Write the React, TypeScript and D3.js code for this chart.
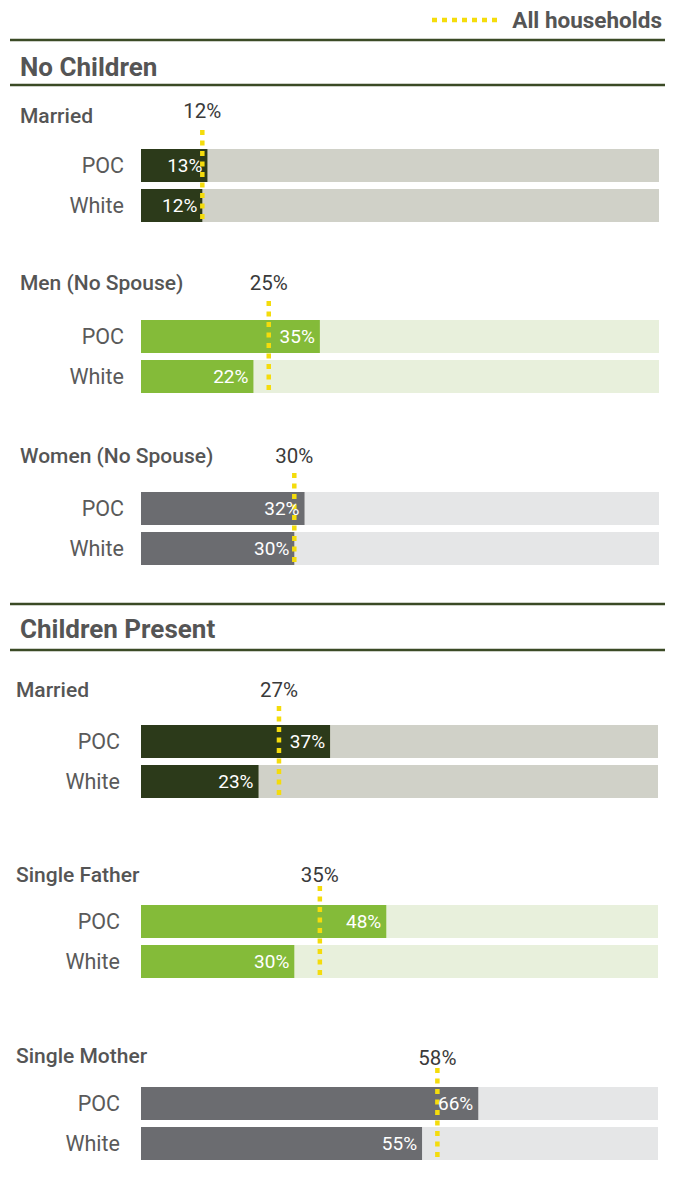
import React from "react";
import * as d3 from "d3";

const sections = ["No Children", "Children Present"];
const groupSection = [0, 0, 0, 1, 1, 1];
const groups = ["Married", "Men (No Spouse)", "Women (No Spouse)", "Married", "Single Father", "Single Mother"];
const rowLabels = ["POC", "White"];
const pocValues = [13, 35, 32, 37, 48, 66];
const whiteValues = [12, 22, 30, 23, 30, 55];
const allValues = [12, 25, 30, 27, 35, 58];
const groupPalette = ["dark", "green", "gray", "dark", "green", "gray"];
const legendLabel = "All households";

const W = 675;
const H = 1191;
const FONT = "Roboto, 'Liberation Sans', sans-serif";
const fills: Record<string, { bar: string; track: string }> = {
  dark: { bar: "#2c3a1a", track: "#d0d1c8" },
  green: { bar: "#84bb39", track: "#e8f0dc" },
  gray: { bar: "#6b6c70", track: "#e5e6e7" },
};
const YELLOW = "#f4dc0c";
const RULE = "#3b4a25";

// layout
const sectionLayout = [
  { titleY: 76, ruleTop: 40, ruleBottom: 85, labelX: 20, rowX: 124, trackEnd: 659 },
  { titleY: 638, ruleTop: 604, ruleBottom: 650, labelX: 16, rowX: 120, trackEnd: 658 },
];
const titleBase = [123, 290, 463, 697, 882, 1063];
const markBase = [118, 290, 463, 697, 882, 1065];
const barTops = [149, 320, 492, 725, 905, 1087];
const barH = 33;
const barGap = 40;

const x = d3.scaleLinear().domain([0, 100]).range([141, 652]);

export default function App() {
  return (
    <svg width={W} height={H} style={{ display: "block", position: "absolute", left: 0, top: 0 }} fontFamily={FONT}>
      <rect width={W} height={H} fill="#fff" />
      {/* legend */}
      <line x1={432} x2={502} y1={20} y2={20} stroke={YELLOW} strokeWidth={4.5} strokeDasharray="5 5" />
      <text x={662} y={28} textAnchor="end" fontSize={22.5} fontWeight={700} fill="#555">{legendLabel}</text>
      {sections.map((s, i) => {
        const L = sectionLayout[i];
        return (
          <g key={s}>
            <line x1={10} x2={665} y1={L.ruleTop} y2={L.ruleTop} stroke={RULE} strokeWidth={2.5} />
            <line x1={10} x2={665} y1={L.ruleBottom} y2={L.ruleBottom} stroke={RULE} strokeWidth={2.5} />
            <text x={20} y={L.titleY} fontSize={26} fontWeight={700} fill="#555">{s}</text>
          </g>
        );
      })}
      {groups.map((g, i) => {
        const L = sectionLayout[groupSection[i]];
        const pal = fills[groupPalette[i]];
        const vals = [pocValues[i], whiteValues[i]];
        const ax = x(allValues[i]);
        const barTop = barTops[i];
        return (
          <g key={i}>
            <text x={L.labelX} y={titleBase[i]} fontSize={21} fontWeight={500} fill="#555">{g}</text>
            {vals.map((v, j) => {
              const y0 = barTop + j * barGap;
              return (
                <g key={j}>
                  <text x={L.rowX} y={y0 + barH / 2 + 7.5} textAnchor="end" fontSize={21.5} fill="#5a5a5a">{rowLabels[j]}</text>
                  <rect x={x(0)} y={y0} width={L.trackEnd - x(0)} height={barH} fill={pal.track} />
                  <rect x={x(0)} y={y0} width={x(v) - x(0)} height={barH} fill={pal.bar} />
                </g>
              );
            })}
            <line x1={ax} x2={ax} y1={barTop - 19} y2={barTop + barGap + barH} stroke={YELLOW} strokeWidth={4.5} strokeDasharray="5 5.5" />
            {vals.map((v, j) => {
              const y0 = barTop + j * barGap;
              return (
                <text key={j} x={x(v) - 5} y={y0 + barH / 2 + 6.5} textAnchor="end" fontSize={19} fill="#fff">{v}%</text>
              );
            })}
            <text x={ax} y={markBase[i]} textAnchor="middle" fontSize={20.5} fill="#3a3a3a">{allValues[i]}%</text>
          </g>
        );
      })}
    </svg>
  );
}
